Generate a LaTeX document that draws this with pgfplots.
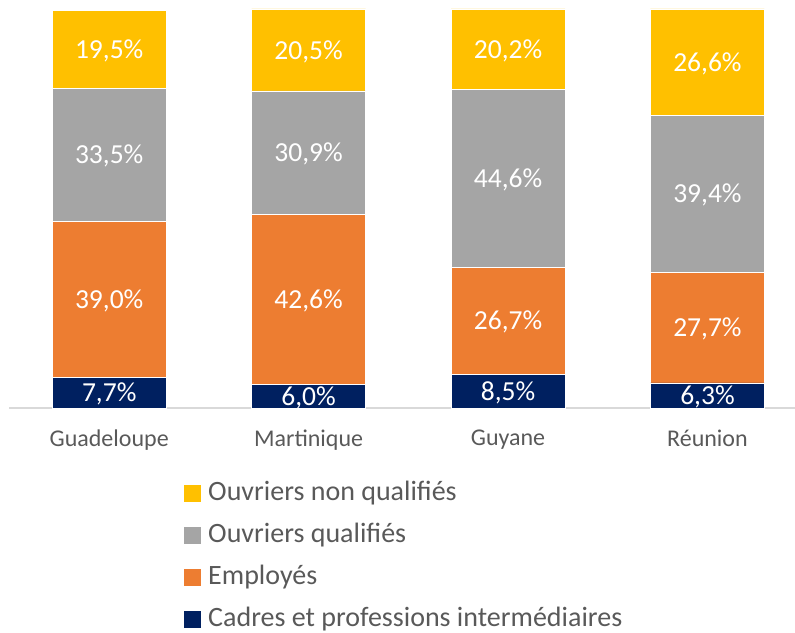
\documentclass[border=0pt]{standalone}
\usepackage{pgfplots}
\pgfplotsset{compat=1.18}
\usepackage{fontspec}
\setmainfont{Carlito}
\definecolor{cYel}{HTML}{FFC000}
\definecolor{cGry}{HTML}{A5A5A5}
\definecolor{cOra}{HTML}{ED7D31}
\definecolor{cNav}{HTML}{002060}
\definecolor{cText}{HTML}{595959}
\definecolor{cLine}{HTML}{D9D9D9}
\begin{document}
\begin{tikzpicture}
\begin{axis}[
  scale only axis, width=785.5pt, height=399pt,
  xmin=-0.5, xmax=3.439, ymin=0, ymax=100,
  ybar stacked, bar width=114pt,
  axis y line=none, axis x line=bottom,
  x axis line style={-, draw=cLine, line width=1.2pt},
  xtick={0,1,2,3}, xticklabels={Guadeloupe,Martinique,Guyane,Réunion},
  major tick length=0,
  xticklabel style={font=\fontsize{24}{28}\selectfont, text=cText, yshift=-18pt},
  point meta=rawy,
  nodes near coords={\pgfmathprintnumber[fixed,fixed zerofill,precision=1,use comma,assume math mode=true]{\pgfplotspointmeta}\%},
  every node near coord/.append style={font=\fontsize{27.5}{32}\selectfont, text=white, anchor=center, yshift=-1.5pt},
  reverse legend,
  legend cell align=left,
  legend image code/.code={\draw[#1, draw=none] (0pt,-8.5pt) rectangle (17pt,8.5pt);},
  legend style={at={(axis description cs:0.2222,-0.1804)}, anchor=north west, draw=none, fill=none, inner sep=0pt, row sep=16.2pt, column sep=5pt, font=\fontsize{28}{33}\selectfont, text=cText, nodes={inner xsep=2pt, inner ysep=1pt, text height=19pt, text depth=5pt}},
]
\addplot[fill=cNav, draw=white, line width=0.5pt] coordinates {(0,7.7) (1,6.0) (2,8.5) (3,6.3)};
\addplot[fill=cOra, draw=white, line width=0.5pt] coordinates {(0,39.0) (1,42.6) (2,26.7) (3,27.7)};
\addplot[fill=cGry, draw=white, line width=0.5pt] coordinates {(0,33.5) (1,30.9) (2,44.6) (3,39.4)};
\addplot[fill=cYel, draw=white, line width=0.5pt] coordinates {(0,19.5) (1,20.5) (2,20.2) (3,26.6)};
\legend{Cadres et professions intermédiaires, Employés, Ouvriers qualifiés, Ouvriers non qualifiés}
\end{axis}
\pgfresetboundingbox
\path[use as bounding box] (-9.5pt,-224pt) rectangle (785.5pt,408pt);
\end{tikzpicture}
\end{document}
